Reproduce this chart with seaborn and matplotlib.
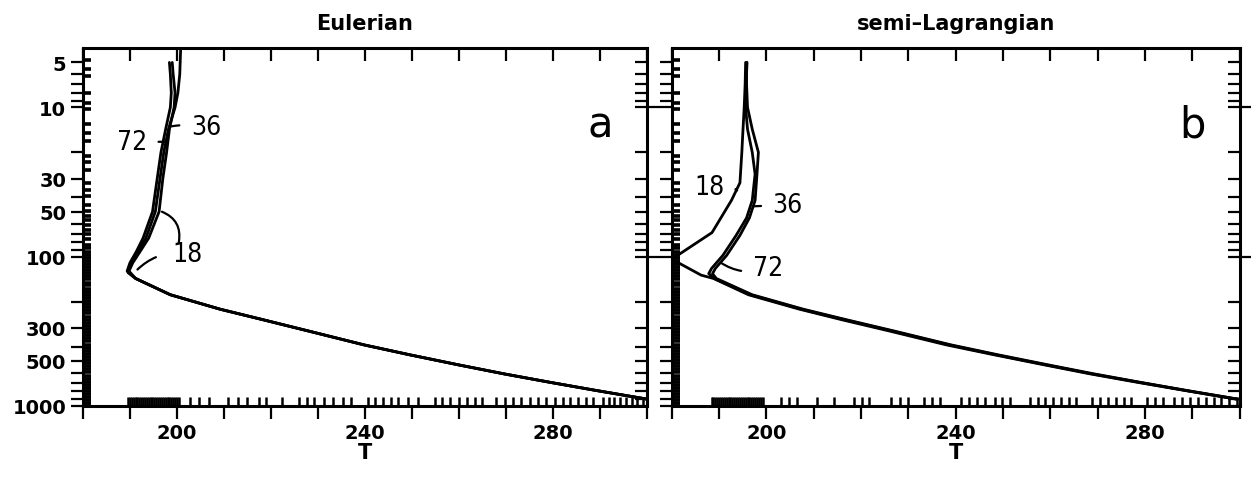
import pandas as pd
import matplotlib
matplotlib.use('Agg')
import matplotlib.pyplot as plt
import seaborn as sns

# model levels (inward ticks on the pressure axis)
LEVELS = [4.8, 5.5, 6.2, 8.0, 9.3, 10.2, 13, 14.9, 16.9, 21.3, 23.4, 26.2, 32, 35.6,
          39.4, 44.8, 49.6, 53.6, 56.4, 60.9, 65.8, 71, 76.7,
          84, 88, 92.5, 97, 102, 107, 112, 117, 123, 129, 135, 142, 149, 156, 164,
          172, 180, 189, 198, 208, 218, 229, 240, 252, 264, 277, 291, 305, 320, 336,
          352, 370, 388, 407, 427, 448, 470, 493, 517, 542, 569, 597, 626, 657, 689,
          723, 758, 795, 834, 875, 918, 963, 1000]

# inward ticks on the temperature axis
T_MARKS_E = [189.6, 190.0, 190.4, 190.8, 191.2, 191.6, 192.0, 192.4, 192.8, 193.2,
             193.6, 194.0, 194.4, 194.8, 195.2, 195.6, 196.0, 196.4, 196.8, 197.2,
             197.6, 198.0, 198.4, 198.8, 199.2, 199.6, 200.0, 200.4,
             202.8, 204.8, 206.9, 210.9, 213.0, 215.0, 217.4, 219.0, 222.3, 226.0,
             227.6, 229.2, 231.3, 233.3, 235.3, 237.0, 240.6, 242.2, 243.9, 245.5,
             247.1, 249.2, 251.2, 254.9, 256.5, 258.1, 260.1, 261.8, 263.4, 265.0,
             267.9, 269.9, 271.5, 273.2, 275.2, 276.8, 278.5, 280.5, 282.1, 283.7,
             285.4, 287.0, 288.6, 290.7, 291.9, 293.1, 294.3, 295.5, 296.8, 298.0, 299.2]
T_MARKS_S = [188.4, 188.8, 189.2, 189.6, 190.0, 190.4, 190.8, 191.2, 191.6, 192.0,
             192.4, 192.8, 193.2, 193.6, 194.0, 194.4, 194.8, 195.2, 195.6, 196.0,
             196.4, 196.8, 197.2, 197.6, 198.0, 198.4, 198.8, 199.2,
             203.1, 204.8, 206.4, 210.6, 214.3, 218.4, 220.1, 221.7, 226.3, 228.3,
             230.0, 233.3, 235.0, 236.6, 241.2, 242.8, 244.5, 246.1, 248.2, 249.8,
             251.5, 255.6, 257.3, 258.9, 260.6, 262.2, 263.9, 265.5, 268.8, 270.5,
             272.1, 273.8, 275.5, 277.1, 280.4, 282.1, 283.7, 286.2, 287.9, 289.5,
             291.2, 292.8, 294.5, 296.1, 297.8, 299.4]

# lower (tropospheric) part shared by the runs
P_LOW = [140, 180, 225, 265, 315, 390, 455, 530, 610, 695, 790, 900]

# Eulerian runs
P_E18 = [5.0, 6.0, 8.0, 10, 14, 20, 30, 50, 75, 92, 110, 125]
T_E18 = [199.0, 199.2, 199.6, 199.4, 198.4, 197.8, 197.0, 196.2, 194.0, 192.2, 190.6, 189.8]
P_E36 = [4.0, 6.0, 8.0, 10, 14, 20, 30, 50, 75, 92, 110, 128]
T_E36 = [200.8, 200.6, 200.2, 199.6, 198.2, 197.2, 196.4, 195.4, 193.4, 191.8, 190.2, 189.6]
P_E72 = [5.0, 6.0, 8.0, 10, 14, 20, 30, 50, 75, 92, 110, 125]
T_E72 = [198.4, 198.6, 198.8, 198.6, 197.6, 196.6, 195.8, 194.8, 192.8, 191.4, 190.0, 189.4]
T_E_LOW = [191.2, 198.6, 209.2, 218.4, 228.0, 239.8, 249.6, 259.8, 269.6, 279.4, 289.4, 300.0]

# semi-Lagrangian runs
P_S18 = [5, 7, 10, 15, 20, 32, 42, 69, 104, 133]
T_S18 = [195.6, 195.5, 195.3, 195.0, 194.8, 194.4, 192.6, 188.5, 180.0, 186.2]
P_S36 = [5, 7, 10, 14, 20, 28, 42, 55, 72, 98, 120, 130]
T_S36 = [195.8, 195.8, 196.0, 197.0, 198.3, 198.0, 197.6, 196.4, 194.4, 191.6, 189.2, 188.6]
P_S72 = [5, 7, 10, 14, 20, 28, 42, 55, 72, 98, 120, 130]
T_S72 = [195.9, 195.7, 195.6, 196.0, 197.0, 197.6, 197.0, 195.8, 193.6, 190.8, 188.4, 187.8]
T_S18_LOW = [188.8, 196.2, 207.0, 216.0, 226.0, 238.0, 248.2, 258.6, 268.4, 278.4, 288.6, 299.2]
T_S36_LOW = [189.4, 197.0, 207.8, 217.0, 227.0, 239.0, 249.0, 259.4, 269.2, 279.0, 289.0, 299.6]
T_S72_LOW = [189.0, 196.6, 207.4, 216.6, 226.6, 238.6, 248.6, 259.0, 268.8, 278.8, 288.8, 299.4]

Y_LABELED = [5, 10, 30, 50, 100, 300, 500, 1000]
Y_TICKS = [5, 6, 7, 8, 9, 10, 20, 30, 40, 50, 60, 70, 80, 90,
           100, 200, 300, 400, 500, 600, 700, 800, 900, 1000]
Y_DECADES = [10, 100]
X_TICKS = list(range(180, 301, 10))
X_LABELED = [200, 240, 280]


def profiles(runs):
    frames = []
    for name, (p_up, t_up, t_low) in runs.items():
        frames.append(pd.DataFrame({'p': list(p_up) + P_LOW,
                                    'T': list(t_up) + list(t_low),
                                    'run': name}))
    return pd.concat(frames, ignore_index=True)


def style_axes(ax, t_marks, show_ylabels):
    ax.set_yscale('log')
    ax.set_ylim(1000, 4)
    ax.set_xlim(180, 300)
    ax.set_yticks(Y_TICKS, [str(v) if (v in Y_LABELED and show_ylabels) else ''
                            for v in Y_TICKS])
    ax.minorticks_off()
    ax.set_xticks(X_TICKS, [str(v) if v in X_LABELED else '' for v in X_TICKS])
    ax.tick_params(direction='out', length=9, width=1.6, labelsize=14, pad=3,
                   color='black', labelcolor='black')
    for s in ax.spines.values():
        s.set_linewidth(2.2)
        s.set_color('black')
    # rug marks for levels / temperatures
    sns.rugplot(y=LEVELS, ax=ax, height=0.015, color='black', linewidth=2.6,
                expand_margins=False)
    sns.rugplot(x=t_marks, ax=ax, height=0.026, color='black', linewidth=1.8,
                expand_margins=False)
    top = ax.secondary_xaxis('top')
    top.set_xticks(X_TICKS)
    top.tick_params(direction='in', length=9, width=1.6, labeltop=False,
                    color='black')
    right = ax.secondary_yaxis('right')
    right.set_yticks(Y_DECADES, ['' for _ in Y_DECADES])
    right.set_yticks([v for v in Y_TICKS if v not in Y_DECADES], minor=True)
    right.tick_params(which='major', direction='inout', length=18, width=1.6,
                      labelright=False, color='black')
    right.tick_params(which='minor', direction='in', length=9, width=1.6,
                      labelright=False, color='black')
    for s in list(top.spines.values()) + list(right.spines.values()):
        s.set_visible(False)
    ax.set_xlabel('T', fontsize=15, fontweight='bold', labelpad=0, color='black')
    ax.set_ylabel('')


sns.set_style('ticks')
plt.rcParams['font.family'] = ['DejaVu Sans']
plt.rcParams['font.weight'] = 'bold'
plt.rcParams['text.color'] = 'black'

fig = plt.figure(figsize=(12.51, 4.85), dpi=100)
ax1 = fig.add_axes([0.0663, 0.161, 0.4508, 0.738])
ax2 = fig.add_axes([0.537, 0.161, 0.454, 0.738])

eul = profiles({'18': (P_E18, T_E18, T_E_LOW),
                '36': (P_E36, T_E36, T_E_LOW),
                '72': (P_E72, T_E72, T_E_LOW)})
sl = profiles({'18': (P_S18, T_S18, T_S18_LOW),
               '36': (P_S36, T_S36, T_S36_LOW),
               '72': (P_S72, T_S72, T_S72_LOW)})

for ax, df, marks, title, letter, show in [
        (ax1, eul, T_MARKS_E, 'Eulerian', 'a', True),
        (ax2, sl, T_MARKS_S, 'semi\u2013Lagrangian', 'b', False)]:
    sns.lineplot(data=df, x='T', y='p', units='run', estimator=None, sort=False,
                 color='black', linewidth=2.0, ax=ax, legend=False)
    style_axes(ax, marks, show)
    ax.set_title(title, fontsize=15, fontweight='bold', pad=14, color='black')
    ax.text(290, 13, letter, fontsize=30, fontweight='normal', ha='center', va='center')

lab = dict(fontsize=19, fontweight='normal', ha='center', va='center',
           fontstretch='condensed')
line = dict(arrowstyle='-', lw=1.6, color='black', shrinkA=6, shrinkB=0)

ax1.annotate('72', xy=(197.4, 17), xytext=(190.4, 17),
             arrowprops=dict(line, connectionstyle='arc3,rad=0'), **lab)
ax1.annotate('36', xy=(198.8, 13.4), xytext=(206.2, 13.6),
             arrowprops=dict(line, connectionstyle='arc3,rad=0.1'), **lab)
ax1.annotate('18', xy=(191.6, 122), xytext=(202.3, 96),
             arrowprops=dict(line, shrinkA=10, connectionstyle='arc3,rad=0.25'), **lab)
ax1.annotate('', xy=(196.8, 50), xytext=(200.4, 80),
             arrowprops=dict(line, shrinkA=0, connectionstyle='arc3,rad=0.4'))

ax2.annotate('18', xy=(193.8, 36), xytext=(188.0, 34),
             arrowprops=dict(line, connectionstyle='arc3,rad=-0.3'), **lab)
ax2.annotate('36', xy=(197.2, 46), xytext=(204.5, 45),
             arrowprops=dict(line, connectionstyle='arc3,rad=0'), **lab)
ax2.annotate('72', xy=(190.4, 110), xytext=(200.3, 119),
             arrowprops=dict(line, connectionstyle='arc3,rad=-0.25'), **lab)

fig.savefig('out.png', dpi=100)
